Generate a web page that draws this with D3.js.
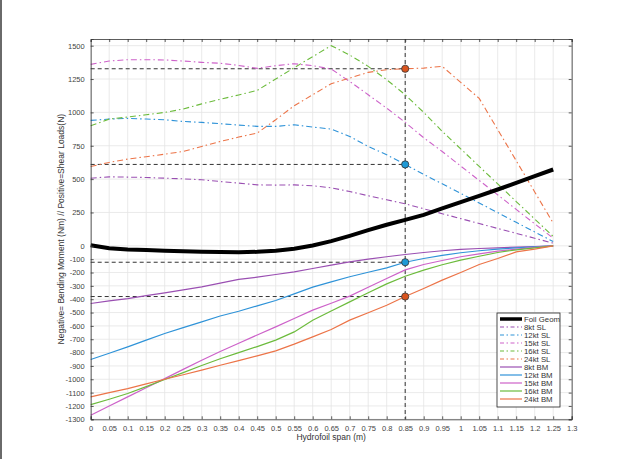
<!DOCTYPE html>
<html>
<head>
<meta charset="utf-8">
<script src="https://cdn.jsdelivr.net/npm/d3@7"></script>
<style>
  body { margin: 0; background: #fff; }
  svg { display: block; font-family: "Liberation Sans", Arial, sans-serif; }
</style>
</head>
<body>
<div id="chart"></div>
<script>
// span stations (m)
var span = [0, 0.05, 0.1, 0.15, 0.2, 0.25, 0.3, 0.35, 0.4, 0.45, 0.5, 0.55, 0.6,
            0.65, 0.7, 0.75, 0.8, 0.85, 0.9, 0.95, 1.0, 1.05, 1.1, 1.15, 1.2, 1.25];

var foilGeom = [5, -18, -27, -32, -37, -41, -45, -47, -48, -45, -36, -22, 2,
                35, 75, 118, 158, 195, 232, 280, 328, 375, 422, 472, 522, 572];

// shear loads (N)
var sl8  = [507, 517, 515, 512, 507, 502, 495, 482, 470, 457, 455, 457, 450,
            435, 407, 375, 345, 315, 278, 241, 204, 167, 130, 94, 57, 20];
var sl12 = [940, 950, 955, 950, 945, 932, 925, 915, 905, 895, 895, 907, 890,
            875, 820, 745, 682, 610, 535, 465, 393, 321, 249, 176, 104, 32];
var sl15 = [1360, 1385, 1395, 1395, 1393, 1385, 1375, 1368, 1352, 1330, 1350, 1365, 1350,
            1325, 1232, 1132, 1032, 925, 810, 707, 598, 490, 382, 273, 165, 57];
var sl16 = [900, 950, 965, 982, 1000, 1025, 1064, 1098, 1131, 1165, 1250, 1335, 1418,
            1500, 1430, 1345, 1245, 1132, 1000, 858, 727, 595, 464, 332, 201, 70];
var sl24 = [595, 625, 650, 668, 687, 707, 745, 782, 815, 845, 945, 1050, 1132,
            1215, 1257, 1300, 1320, 1327, 1332, 1345, 1225, 1105, 871, 638, 404, 170];

// bending moments (Nm)
var bm8  = [-432, -413, -395, -373, -352, -330, -307, -280, -252, -235, -215, -195, -170,
            -145, -120, -100, -82, -65, -50, -37, -27, -20, -15, -10, -5, 0];
var bm12 = [-852, -805, -757, -707, -657, -613, -570, -526, -490, -450, -410, -360, -310,
            -270, -232, -198, -165, -123, -95, -72, -52, -37, -25, -15, -7, 0];
var bm15 = [-1270, -1200, -1132, -1063, -995, -926, -857, -792, -730, -668, -607, -545, -482,
            -430, -377, -310, -245, -180, -140, -110, -82, -60, -40, -25, -12, 0];
var bm16 = [-1190, -1150, -1107, -1055, -1002, -950, -897, -846, -800, -755, -707, -645, -557,
            -488, -420, -352, -285, -228, -182, -142, -107, -78, -50, -30, -15, 0];
var bm24 = [-1132, -1100, -1070, -1035, -1000, -966, -932, -895, -860, -825, -787, -737, -682,
            -627, -557, -502, -445, -380, -320, -257, -200, -140, -95, -45, -25, 0];

var xTicks = [0, 0.05, 0.1, 0.15, 0.2, 0.25, 0.3, 0.35, 0.4, 0.45, 0.5, 0.55, 0.6, 0.65,
              0.7, 0.75, 0.8, 0.85, 0.9, 0.95, 1, 1.05, 1.1, 1.15, 1.2, 1.25, 1.3];
var yTicks = [-1300, -1200, -1100, -1000, -900, -800, -700, -600, -500, -400, -300, -200, -100,
              0, 250, 500, 750, 1000, 1250, 1500];

var checkSpan = 0.85;

var colors = {
    '8': '#9a4fb2',
    '12': '#2f93d8',
    '15': '#cd62c9',
    '16': '#6cbb3c',
    '24': '#ec7448'
};

var series = [
    {name: 'Foil Geom', values: foilGeom, color: '#000', width: 4, dash: null},
    {name: '8kt SL', values: sl8, color: colors['8'], width: 1.1, dash: '6,3,1.5,3'},
    {name: '12kt SL', values: sl12, color: colors['12'], width: 1.1, dash: '6,3,1.5,3'},
    {name: '15kt SL', values: sl15, color: colors['15'], width: 1.1, dash: '6,3,1.5,3'},
    {name: '16kt SL', values: sl16, color: colors['16'], width: 1.1, dash: '6,3,1.5,3'},
    {name: '24kt SL', values: sl24, color: colors['24'], width: 1.1, dash: '6,3,1.5,3'},
    {name: '8kt BM', values: bm8, color: colors['8'], width: 1.2, dash: null},
    {name: '12kt BM', values: bm12, color: colors['12'], width: 1.2, dash: null},
    {name: '15kt BM', values: bm15, color: colors['15'], width: 1.2, dash: null},
    {name: '16kt BM', values: bm16, color: colors['16'], width: 1.2, dash: null},
    {name: '24kt BM', values: bm24, color: colors['24'], width: 1.2, dash: null}
];

// marked points at the check station
var idx = span.indexOf(checkSpan);
var markers = [
    {v: sl24[idx], color: '#d9541e'},
    {v: sl12[idx], color: '#1f9ad6'},
    {v: bm12[idx], color: '#1f9ad6'},
    {v: bm24[idx], color: '#d9541e'}
];

var width = 633, height = 459;
var plotLeft = 90.7, plotRight = 571.7, plotTop = 39, plotBottom = 419.3;

var svg = d3.select('#chart').append('svg')
    .attr('width', width)
    .attr('height', height);

svg.append('rect').attr('width', width).attr('height', height).attr('fill', '#fff');
// dark strip on the left edge of the capture
svg.append('rect').attr('x', 0).attr('y', 0).attr('width', 2).attr('height', height).attr('fill', '#6a6a6a');

var x = d3.scaleLinear().domain([0, 1.3]).range([plotLeft, plotRight]);
var y = d3.scaleLinear().domain([-1300, 1550]).range([plotBottom, plotTop]);

var fmt = function(d) { return String(+d.toFixed(2)); };

// grid
var grid = svg.append('g');
grid.selectAll('line.gx').data(xTicks).enter().append('line')
    .attr('x1', function(d) { return x(d); }).attr('x2', function(d) { return x(d); })
    .attr('y1', plotTop).attr('y2', plotBottom)
    .attr('stroke', '#e4e4e4').attr('stroke-width', 0.8);
grid.selectAll('line.gy').data(yTicks).enter().append('line')
    .attr('y1', function(d) { return y(d); }).attr('y2', function(d) { return y(d); })
    .attr('x1', plotLeft).attr('x2', plotRight)
    .attr('stroke', '#e4e4e4').attr('stroke-width', 0.8);

// reference dashes at the check station
var refs = svg.append('g')
    .attr('stroke', '#333').attr('stroke-width', 1).attr('stroke-dasharray', '4,3');
refs.append('line')
    .attr('x1', x(checkSpan)).attr('x2', x(checkSpan))
    .attr('y1', plotTop).attr('y2', plotBottom);
refs.selectAll('line.h').data(markers).enter().append('line')
    .attr('x1', x(0)).attr('x2', x(checkSpan))
    .attr('y1', function(d) { return y(d.v); }).attr('y2', function(d) { return y(d.v); });

// lines
var line = d3.line()
    .x(function(d, i) { return x(span[i]); })
    .y(function(d) { return y(d); });

svg.append('g').selectAll('path').data(series.slice(1).concat([series[0]])).enter().append('path')
    .attr('d', function(d) { return line(d.values); })
    .attr('fill', 'none')
    .attr('stroke', function(d) { return d.color; })
    .attr('stroke-width', function(d) { return d.width; })
    .attr('stroke-dasharray', function(d) { return d.dash; });

svg.append('g').selectAll('circle').data(markers).enter().append('circle')
    .attr('cx', x(checkSpan))
    .attr('cy', function(d) { return y(d.v); })
    .attr('r', 3.6)
    .attr('fill', function(d) { return d.color; })
    .attr('stroke', '#333').attr('stroke-width', 0.8);

// axes (ticks inward, box all round)
var axisColor = '#333';
var gl = svg.append('g').attr('transform', 'translate(' + plotLeft + ',0)')
    .call(d3.axisLeft(y).tickValues(yTicks).tickSize(-3).tickPadding(6).tickFormat(fmt));
var gr = svg.append('g').attr('transform', 'translate(' + plotRight + ',0)')
    .call(d3.axisRight(y).tickValues(yTicks).tickSize(-3).tickFormat(''));
var gb = svg.append('g').attr('transform', 'translate(0,' + plotBottom + ')')
    .call(d3.axisBottom(x).tickValues(xTicks).tickSize(-3).tickPadding(6).tickFormat(fmt));
var gt = svg.append('g').attr('transform', 'translate(0,' + plotTop + ')')
    .call(d3.axisTop(x).tickValues(xTicks).tickSize(-3).tickFormat(''));

[gl, gr, gb, gt].forEach(function(g) {
    g.select('.domain').attr('stroke', axisColor).attr('stroke-width', 0.8);
    g.selectAll('.tick line').attr('stroke', axisColor).attr('stroke-width', 0.8);
    g.selectAll('.tick text').attr('fill', '#444').style('font-size', '7.5px');
});

svg.append('text')
    .attr('x', (plotLeft + plotRight) / 2).attr('y', 440)
    .attr('text-anchor', 'middle')
    .attr('fill', '#333').style('font-size', '8.5px')
    .text('Hydrofoil span (m)');

svg.append('text')
    .attr('transform', 'translate(64,' + ((plotTop + plotBottom) / 2) + ') rotate(-90)')
    .attr('text-anchor', 'middle')
    .attr('fill', '#333').style('font-size', '8.5px')
    .text('Negative= Bending Moment (Nm) // Positive=Shear Loads(N)');

// legend
var lg = svg.append('g').attr('transform', 'translate(497,313)');
lg.append('rect')
    .attr('width', 63).attr('height', 94)
    .attr('fill', '#fff').attr('stroke', '#222').attr('stroke-width', 0.8);
var rows = lg.selectAll('g.row').data(series).enter().append('g')
    .attr('transform', function(d, i) { return 'translate(0,' + (6 + i * 8) + ')'; });
rows.append('line')
    .attr('x1', 3).attr('x2', 25)
    .attr('stroke', function(d) { return d.color; })
    .attr('stroke-width', function(d) { return d.width === 4 ? 3.5 : 1.2; })
    .attr('stroke-dasharray', function(d) { return d.dash ? '4,2.5,1.5,2.5' : null; });
rows.append('text')
    .attr('x', 27).attr('y', 2.8)
    .attr('fill', '#333').style('font-size', '7.8px')
    .text(function(d) { return d.name; });
</script>
</body>
</html>
